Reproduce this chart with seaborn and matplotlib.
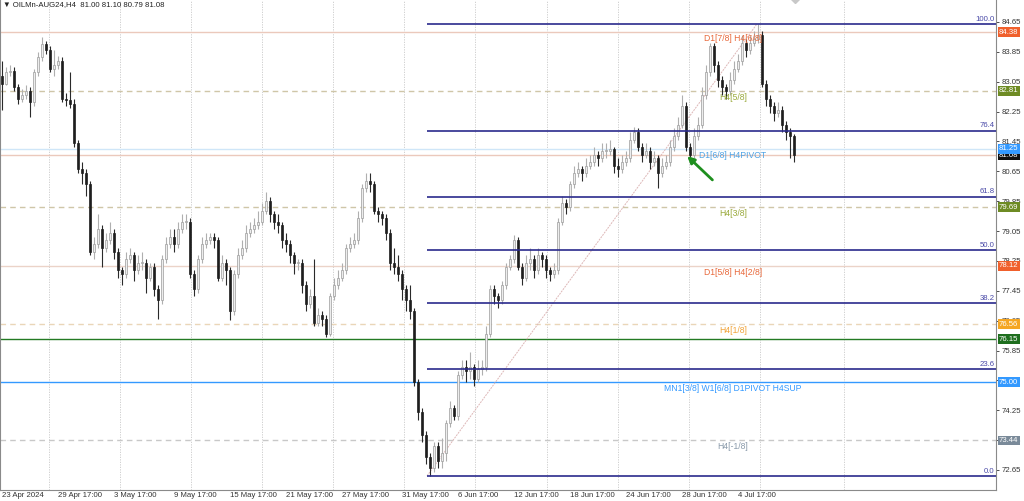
"""Gráfico H4 de OILMn-AUG24 con niveles Murrey y retroceso de Fibonacci."""

import matplotlib
matplotlib.use("Agg")
import matplotlib.pyplot as plt
import matplotlib.transforms as mtransforms
import numpy as np
import pandas as pd
import seaborn as sns

# ── Datos ───────────────────────────────────────────────────────────────────
TITULO = "▼ OILMn-AUG24,H4  81.00 81.10 80.79 81.08"

PRIMER_OPEN = 83.2
CIERRES = [
    83.0, 83.3, 83.35, 82.9, 82.6, 82.7, 82.8, 82.5, 83.3, 83.7,
    84.05, 83.9, 83.4, 83.5, 83.6, 82.6, 82.55, 82.45, 81.4, 80.7,
    80.6, 80.3, 78.5, 78.7, 79.1, 78.6, 78.8, 79.0, 78.5, 78.0,
    77.9, 78.3, 78.4, 78.0, 78.2, 78.2, 77.8, 78.1, 77.5, 77.2,
    78.3, 78.7, 78.9, 78.7, 79.1, 79.3, 79.3, 77.9, 77.5, 78.3,
    78.7, 78.8, 78.9, 78.8, 77.8, 78.2, 78.0, 76.9, 77.9, 78.4,
    78.6, 79.0, 79.1, 79.2, 79.3, 79.6, 79.85, 79.5, 79.3, 79.2,
    78.8, 78.7, 78.4, 78.2, 78.2, 77.6, 77.1, 77.3, 76.6, 76.8,
    76.7, 76.3, 77.3, 77.6, 77.8, 78.0, 78.6, 78.7, 78.8, 79.4,
    80.2, 80.4, 80.3, 79.6, 79.5, 79.4, 79.0, 78.2, 78.1, 77.9,
    77.5, 77.2, 76.9, 75.0, 74.2, 73.6, 73.0, 72.7, 73.3, 72.9,
    73.1, 73.9, 74.3, 74.1, 75.2, 75.4, 75.3, 75.4, 75.1, 75.35,
    75.4, 76.3, 77.5, 77.3, 77.2, 77.6, 78.1, 78.3, 78.8, 78.1,
    77.8, 78.2, 78.3, 78.0, 78.4, 78.3, 78.0, 77.9, 78.0, 79.3,
    79.8, 79.7, 80.3, 80.6, 80.7, 80.6, 80.8, 80.9, 81.1, 81.0,
    81.2, 81.2, 81.25, 80.8, 80.7, 80.9, 81.0, 81.5, 81.7, 81.3,
    81.1, 81.2, 80.9, 81.0, 80.6, 80.8, 80.9, 81.3, 81.6, 81.9,
    82.4, 81.3, 81.1, 81.6, 81.9, 82.7, 83.3, 84.0, 83.5, 83.1,
    82.9, 82.8, 83.1, 83.4, 83.6, 84.1, 83.9, 84.1, 84.2, 84.3,
    83.0, 82.6, 82.4, 82.2, 82.3, 81.9, 81.7, 81.6, 81.08,
]
MAXIMOS = [
    83.6, 83.45, 83.5, 83.45, 83.0, 82.85, 82.95, 82.9, 83.4, 83.85,
    84.25, 84.15, 84.0, 83.9, 83.75, 83.7, 82.75, 83.3, 82.6, 81.5,
    80.9, 80.7, 80.4, 78.9, 79.5, 79.2, 79.0, 79.3, 79.1, 78.6,
    78.1, 78.5, 78.6, 78.5, 78.4, 78.5, 78.3, 78.2, 78.2, 77.6,
    78.4, 78.9, 79.1, 79.1, 79.3, 79.5, 79.5, 79.4, 78.0, 78.4,
    78.9, 79.0, 79.0, 79.0, 78.9, 78.4, 78.3, 78.1, 78.0, 78.6,
    78.8, 79.2, 79.3, 79.4, 79.6, 79.8, 80.1, 79.95, 79.6, 79.5,
    79.3, 79.0, 78.8, 78.5, 78.3, 78.3, 77.7, 77.5, 78.3, 77.0,
    76.9, 76.8, 77.4, 77.8, 78.0, 78.2, 78.7, 78.9, 79.0, 79.6,
    80.3, 80.6, 80.6, 80.4, 79.7, 79.6, 79.5, 79.1, 78.6, 78.4,
    78.0, 77.6, 77.6, 77.0, 75.1, 74.3, 73.7, 73.1, 73.4, 73.4,
    73.5, 74.0, 74.5, 74.4, 75.3, 75.6, 75.6, 75.8, 75.5, 75.6,
    75.6, 76.5, 77.6, 77.6, 77.4, 77.7, 78.2, 78.4, 78.95, 78.9,
    78.2, 78.4, 78.6, 78.4, 78.6, 78.5, 78.4, 78.1, 78.2, 79.4,
    80.0, 79.9, 80.4, 80.8, 80.9, 80.8, 81.0, 81.1, 81.3, 81.2,
    81.4, 81.4, 81.5, 81.3, 81.0, 81.1, 81.2, 81.7, 81.85, 81.8,
    81.4, 81.4, 81.3, 81.2, 81.1, 81.0, 81.1, 81.5, 81.8, 82.1,
    82.7, 82.5, 81.4, 81.8, 82.1, 82.9, 83.5, 84.1, 84.1, 83.6,
    83.2, 83.0, 83.3, 83.6, 83.8, 84.3, 84.2, 84.3, 84.4, 84.6,
    84.4, 83.1, 82.7, 82.5, 82.5, 82.4, 82.0, 81.8, 81.65,
]
MINIMOS = [
    82.3, 82.95, 83.2, 82.8, 82.45, 82.5, 82.6, 82.1, 82.4, 83.2,
    83.6, 83.8, 83.3, 83.2, 83.4, 82.5, 82.4, 82.35, 81.3, 80.6,
    80.3, 80.0, 78.4, 78.3, 78.6, 78.1, 78.5, 78.7, 78.3, 77.8,
    77.6, 77.8, 78.2, 77.7, 77.9, 78.0, 77.4, 77.7, 77.3, 76.7,
    77.1, 78.2, 78.6, 78.5, 78.6, 79.0, 79.1, 77.8, 77.3, 77.4,
    78.2, 78.6, 78.7, 78.6, 77.7, 77.7, 77.6, 76.67, 76.8, 77.8,
    78.3, 78.5, 78.9, 79.0, 79.1, 79.2, 79.5, 79.3, 79.1, 79.0,
    78.6, 78.5, 78.2, 77.9, 78.0, 77.4, 76.9, 77.0, 76.5, 76.5,
    76.5, 76.2, 76.25, 77.2, 77.5, 77.7, 77.9, 78.5, 78.6, 78.7,
    79.3, 80.1, 80.1, 79.5, 79.3, 79.2, 78.8, 78.0, 77.9, 77.7,
    77.2, 76.9, 76.7, 74.9, 74.0, 73.4, 72.8, 72.49, 72.6, 72.7,
    72.7, 72.9, 73.8, 74.0, 74.0, 75.1, 75.0, 75.1, 74.9, 75.0,
    75.2, 75.3, 76.2, 77.1, 77.0, 77.1, 77.5, 78.0, 78.2, 78.0,
    77.6, 77.7, 78.0, 77.8, 77.9, 78.1, 77.8, 77.7, 77.8, 77.9,
    79.2, 79.5, 79.6, 80.2, 80.5, 80.4, 80.5, 80.7, 80.8, 80.8,
    80.9, 81.0, 81.1, 80.6, 80.5, 80.6, 80.8, 80.9, 81.4, 81.2,
    80.9, 81.0, 80.7, 80.8, 80.2, 80.5, 80.7, 80.8, 81.2, 81.5,
    81.8, 81.2, 81.0, 81.0, 81.5, 81.8, 82.6, 83.2, 83.3, 82.9,
    82.7, 82.6, 82.7, 83.0, 83.3, 83.5, 83.7, 83.8, 84.0, 84.1,
    82.9, 82.4, 82.2, 82.0, 82.1, 81.7, 81.5, 81.0, 80.9,
]

FECHAS = ["23 Apr 2024", "29 Apr 17:00", "3 May 17:00", "9 May 17:00",
          "15 May 17:00", "21 May 17:00", "27 May 17:00", "31 May 17:00",
          "6 Jun 17:00", "12 Jun 17:00", "18 Jun 17:00", "24 Jun 17:00",
          "28 Jun 17:00", "4 Jul 17:00"]
BARRA_FECHAS = [0, 14, 28, 43, 57, 71, 85, 100, 114, 128, 142, 156, 170, 184]
BARRA_GRID = [11.75, 29.5, 47.25, 65, 82.75, 100.5, 118.25, 136.25,
              154, 171.75, 189.5, 210.5]

PRECIOS_EJE = [72.65, 73.45, 74.25, 75.05, 75.85, 76.65, 77.45, 78.25,
               79.05, 79.85, 80.65, 81.45, 82.25, 83.05, 83.85, 84.65]

# Retroceso de Fibonacci (mínimo -> máximo)
FIB_RATIOS = [0.0, 23.6, 38.2, 50.0, 61.8, 76.4, 100.0]
FIB_BAJO, FIB_ALTO = 72.49, 84.60
FIB_BARRA_BAJO, FIB_BARRA_ALTO = 106.25, 188.75

# Niveles Murrey / pivotes
NIVELES = [84.38, 82.81, 81.08, 81.25, 79.69, 78.12, 76.56, 76.15, 75.00, 73.44]
NIVELES_TEXTO = ["D1[7/8] H4[6/8]", "H4[5/8]", "", "D1[6/8] H4PIVOT", "H4[3/8]",
                 "D1[5/8] H4[2/8]", "H4[1/8]", "", "MN1[3/8] W1[6/8] D1PIVOT H4SUP",
                 "H4[-1/8]"]

# ── Estilo ──────────────────────────────────────────────────────────────────
ROJO, OLIVA, AZUL, NARANJA = "#F0602C", "#6E8B24", "#3399FF", "#F5A623"
ESTILO_NIVEL = {  # color línea, estilo, caja, texto
    84.38: ("#EBC9BC", "-", ROJO, "#E8683A"),
    82.81: ("#CFC6A8", (0, (4, 3)), OLIVA, "#9AAA3C"),
    81.08: ("#EBC9BC", "-", "#101010", None),
    81.25: ("#CFE6F8", "-", AZUL, "#4DA3E6"),
    79.69: ("#CFC6A8", (0, (4, 3)), OLIVA, "#9AAA3C"),
    78.12: ("#EBD3C8", "-", ROJO, "#E8683A"),
    76.56: ("#EAD6B8", (0, (4, 3)), NARANJA, "#F2A43A"),
    76.15: ("#237A23", "-", "#1E6E1E", None),
    75.00: ("#3399FF", "-", AZUL, "#3399FF"),
    73.44: ("#C8C8C8", (0, (4, 3)), "#7A8A99", "#8A9AAA"),
}
C_FIB = "#2A2A8C"
FUENTE = 5.6

sns.set_theme(style="white")
plt.rcParams["font.family"] = ["Liberation Sans", "DejaVu Sans"]

fig = plt.figure(figsize=(10.24, 5.01), dpi=100)
fig.patch.set_facecolor("white")
ax = fig.add_axes([0.0, 11 / 501, 996 / 1024, 490 / 501])
ax.set_facecolor("white")

# ── Velas ───────────────────────────────────────────────────────────────────
df = pd.DataFrame({"close": CIERRES, "high": MAXIMOS, "low": MINIMOS})
df["open"] = [PRIMER_OPEN] + CIERRES[:-1]
df["barra"] = np.arange(len(df))
df["alcista"] = df["close"] >= df["open"]

for v in BARRA_GRID:
    ax.axvline(v, color="#C9C9C9", lw=0.6, ls=(0, (1.5, 1.5)), zorder=0)

for precio in NIVELES:
    c_lin, estilo, _, _ = ESTILO_NIVEL[precio]
    ax.axhline(precio, color=c_lin, lw=1.0, ls=estilo, zorder=1)

mecha = np.where(df["alcista"], "#AFAFAF", "#2A2A2A")
ax.vlines(df["barra"], df["low"], df["high"], colors=mecha, lw=0.8, zorder=2)
cuerpo = (df["close"] - df["open"]).abs().clip(lower=0.03)
base = df[["open", "close"]].min(axis=1)
ax.bar(df["barra"], cuerpo, bottom=base, width=0.62,
       color=np.where(df["alcista"], "#EDEDED", "#1E1E1E"),
       edgecolor=np.where(df["alcista"], "#9C9C9C", "#1E1E1E"),
       linewidth=0.5, zorder=3)

# ── Fibonacci ───────────────────────────────────────────────────────────────
sns.lineplot(x=[FIB_BARRA_BAJO, FIB_BARRA_ALTO], y=[FIB_BAJO, FIB_ALTO], ax=ax,
             color="#DDB7B7", lw=0.7, ls=(0, (2, 1)), zorder=1.5)
xlim = (-0.5, 248.5)
for r in FIB_RATIOS:
    p = FIB_BAJO + (FIB_ALTO - FIB_BAJO) * r / 100
    ax.hlines(p, FIB_BARRA_BAJO, xlim[1], color=C_FIB, lw=1.2, zorder=4)
    ax.text(xlim[1] - 0.3, p + 0.03, f"{r:.1f}", ha="right", va="bottom",
            fontsize=FUENTE, color="#4A4AA8", zorder=5)

# ── Textos de niveles ───────────────────────────────────────────────────────
for precio, txt in zip(NIVELES, NIVELES_TEXTO):
    if txt:
        ax.text(182.75, precio - 0.05, txt, ha="center", va="top",
                fontsize=FUENTE + 0.6, color=ESTILO_NIVEL[precio][3], zorder=6)

ax.annotate("", xy=(171.3, 81.06), xytext=(177.6, 80.42),
            arrowprops=dict(arrowstyle="-|>", color="#1E8F1E", lw=2,
                            mutation_scale=10, shrinkA=0, shrinkB=0), zorder=7)

ax.text(0.003, 0.997, TITULO, transform=ax.transAxes, ha="left", va="top",
        fontsize=FUENTE, color="#222222", zorder=8)
ax.plot(198.25, 85.28, marker="D", ms=5, color="#C8C8C8", zorder=8)

# ── Ejes ────────────────────────────────────────────────────────────────────
ax.set_xlim(*xlim)
ax.set_ylim(72.114, 85.239)
ax.yaxis.tick_right()
ax.set_yticks(PRECIOS_EJE)
ax.set_yticklabels([f"{p:.2f}" for p in PRECIOS_EJE])
ax.set_xticks(BARRA_FECHAS)
ax.set_xticklabels(FECHAS, ha="left")
ax.tick_params(axis="y", length=2, width=0.6, pad=2, labelsize=FUENTE,
               colors="#333333", right=True)
ax.tick_params(axis="x", length=0, pad=1.5, labelsize=FUENTE, colors="#333333")
for lado, spine in ax.spines.items():
    spine.set_color("#8A8A8A")
    spine.set_linewidth(0.8)
ax.spines["top"].set_visible(False)

# cajas de precio en el eje derecho
tr = mtransforms.blended_transform_factory(ax.transAxes, ax.transData)
for precio in NIVELES:
    caja = ESTILO_NIVEL[precio][2]
    ax.text(1.0 + 3 / 996, precio, f"{precio:.2f}", transform=tr, ha="left",
            va="center", fontsize=FUENTE, color="white", clip_on=False,
            bbox=dict(boxstyle="square,pad=0.18", fc=caja, ec="none"), zorder=9)

fig.savefig("out.png", dpi=100, facecolor="white")
